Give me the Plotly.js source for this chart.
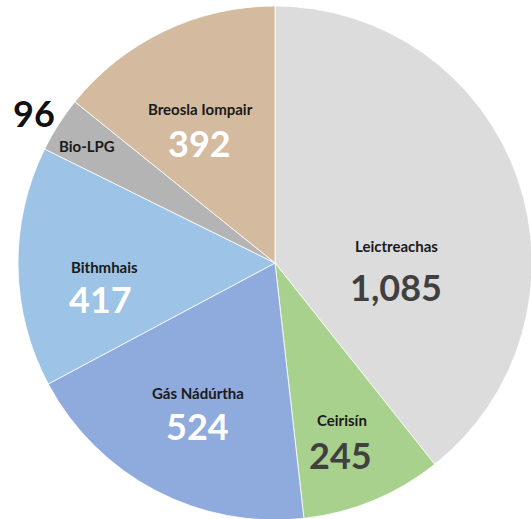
<!DOCTYPE html>
<html>
<head>
<meta charset="utf-8">
<script src="https://cdn.plot.ly/plotly-3.0.1.min.js"></script>
<style>
html,body{margin:0;padding:0;overflow:hidden;background:#fff;}
#chart{width:532px;height:520px;}
</style>
</head>
<body>
<div id="chart"></div>
<script>
// ---- data ----
const categories = ["Leictreachas", "Ceirisín", "Gás Nádúrtha", "Bithmhais", "Bio-LPG", "Breosla Iompair"];
const values = [1085, 245, 524, 417, 96, 392];

// ---- styles (not data) ----
const sliceColors = ["#dcdcdc", "#a9d18e", "#8faadc", "#9dc3e6", "#b4b4b4", "#d4bba0"];
const valueColors = ["#404040", "#404040", "#ffffff", "#ffffff", "#111111", "#ffffff"];
// label anchor pixels [nameX, nameY, valueX, valueY]
const labelPix = [
  [396, 246, 396, 287],
  [342, 420, 340, 455],
  [198, 393, 197, 426],
  [104, 267, 100, 299],
  [87, 146, 34, 113],
  [200, 109, 199, 143]
];
const FONT = "Lato, 'Open Sans', sans-serif";
const L = 18, T = 6, S = 514;
const px2x = p => (p - L) / S;
const py2y = p => 1 - (p - T) / S;

const annotations = [];
categories.forEach((c, i) => {
  const p = labelPix[i];
  annotations.push({
    text: "<b>" + c + "</b>", x: px2x(p[0]), y: py2y(p[1]), xref: "paper", yref: "paper",
    showarrow: false, xanchor: "center", yanchor: "middle",
    font: {family: FONT, size: 15, color: "#1a1a1a"}
  });
  annotations.push({
    text: "<b>" + values[i].toLocaleString("en-US") + "</b>", x: px2x(p[2]), y: py2y(p[3]), xref: "paper", yref: "paper",
    showarrow: false, xanchor: "center", yanchor: "middle",
    font: {family: FONT, size: 36, color: valueColors[i]}
  });
});

const trace = {
  type: "pie",
  labels: categories,
  values: values,
  sort: false,
  direction: "clockwise",
  rotation: 0,
  textinfo: "none",
  hoverinfo: "skip",
  marker: {colors: sliceColors, line: {color: "#ffffff", width: 0.8}}
};

const layout = {
  width: 532, height: 520,
  margin: {l: L, r: 0, t: T, b: 0},
  showlegend: false,
  paper_bgcolor: "#ffffff",
  annotations: annotations
};

Plotly.newPlot("chart", [trace], layout, {staticPlot: true, displayModeBar: false});
</script>
</body>
</html>
